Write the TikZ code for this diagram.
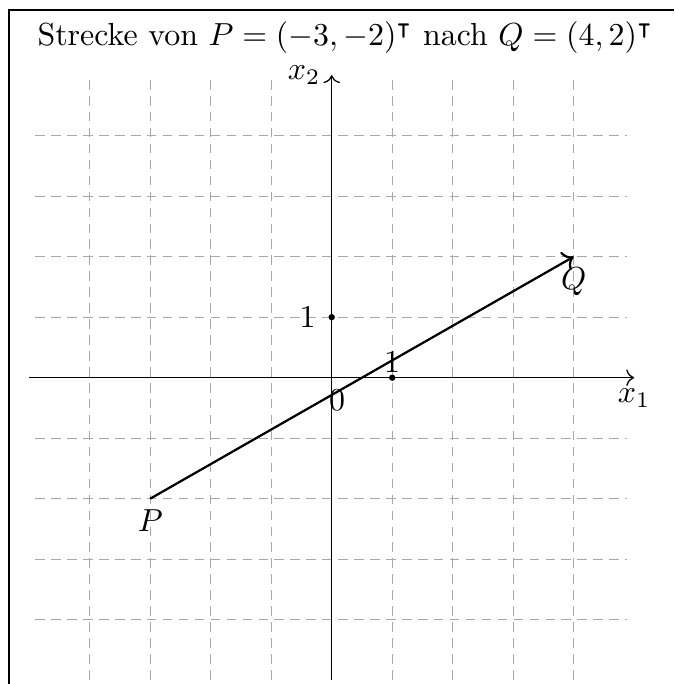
\documentclass[tikz,border=0pt]{standalone}
\usepackage{amsmath,amssymb}
\usepackage{tikz}
\usetikzlibrary{arrows.meta,positioning,calc}
\definecolor{ink}{HTML}{000000}
\definecolor{raster}{HTML}{A8A8A8}

\begin{document}
\begin{tikzpicture}[x=0.6667cm,y=0.6667cm,
    gitter/.style={draw=raster,densely dashed,line width=0.4pt},
    achse/.style={draw=ink,line width=0.4pt,->},
    strecke/.style={draw=ink,line width=0.7pt,->},
    rahmen/.style={draw=ink,line width=0.6pt}]
  \fill[white] (-5.483,-5.063) rectangle (5.658,6.243);
  \useasboundingbox (-5.483,-5.063) rectangle (5.658,6.243);
  \draw[rahmen] (-5.33,-5.063) |- (5.658,6.08);
  \node (titel) at (0.225,5.63) {Strecke von $P=(-3,-2)^\intercal$ nach $Q=(4,2)^\intercal$};
  % raster and axes
  \draw[gitter,xstep=0.6667cm,ystep=0.6667cm] (-4.9,-4.99) grid (4.88,4.92);
  \coordinate (xmin) at (-5,0);
  \coordinate (xmax) at (5,0);
  \coordinate (ymin) at (0,-5);
  \coordinate (ymax) at (0,5);
  \draw[achse] (xmin) -- (xmax);
  \draw[achse] (ymin) -- (ymax);
  \node[below] (xeins) at (xmax) {$x_1$};
  \node[left] (xzwei) at (ymax) {$x_2$};
  % unit points
  \coordinate (ex) at (1,0);
  \coordinate (ey) at (0,1);
  \fill[ink] (ex) circle (1pt);
  \fill[ink] (ey) circle (1pt);
  \node (einsx) at (1,0.26) {$1$};
  \node (einsy) at (-0.4,1) {$1$};
  \node (null) at (0.09,-0.37) {$0$};
  % segment
  \coordinate (P) at (-3,-2);
  \coordinate (Q) at (4,2);
  \draw[strecke] (P) -- (Q);
  \node[below] (plabel) at (P) {$P$};
  \node[below] (qlabel) at (Q) {$Q$};
\end{tikzpicture}
\end{document}
